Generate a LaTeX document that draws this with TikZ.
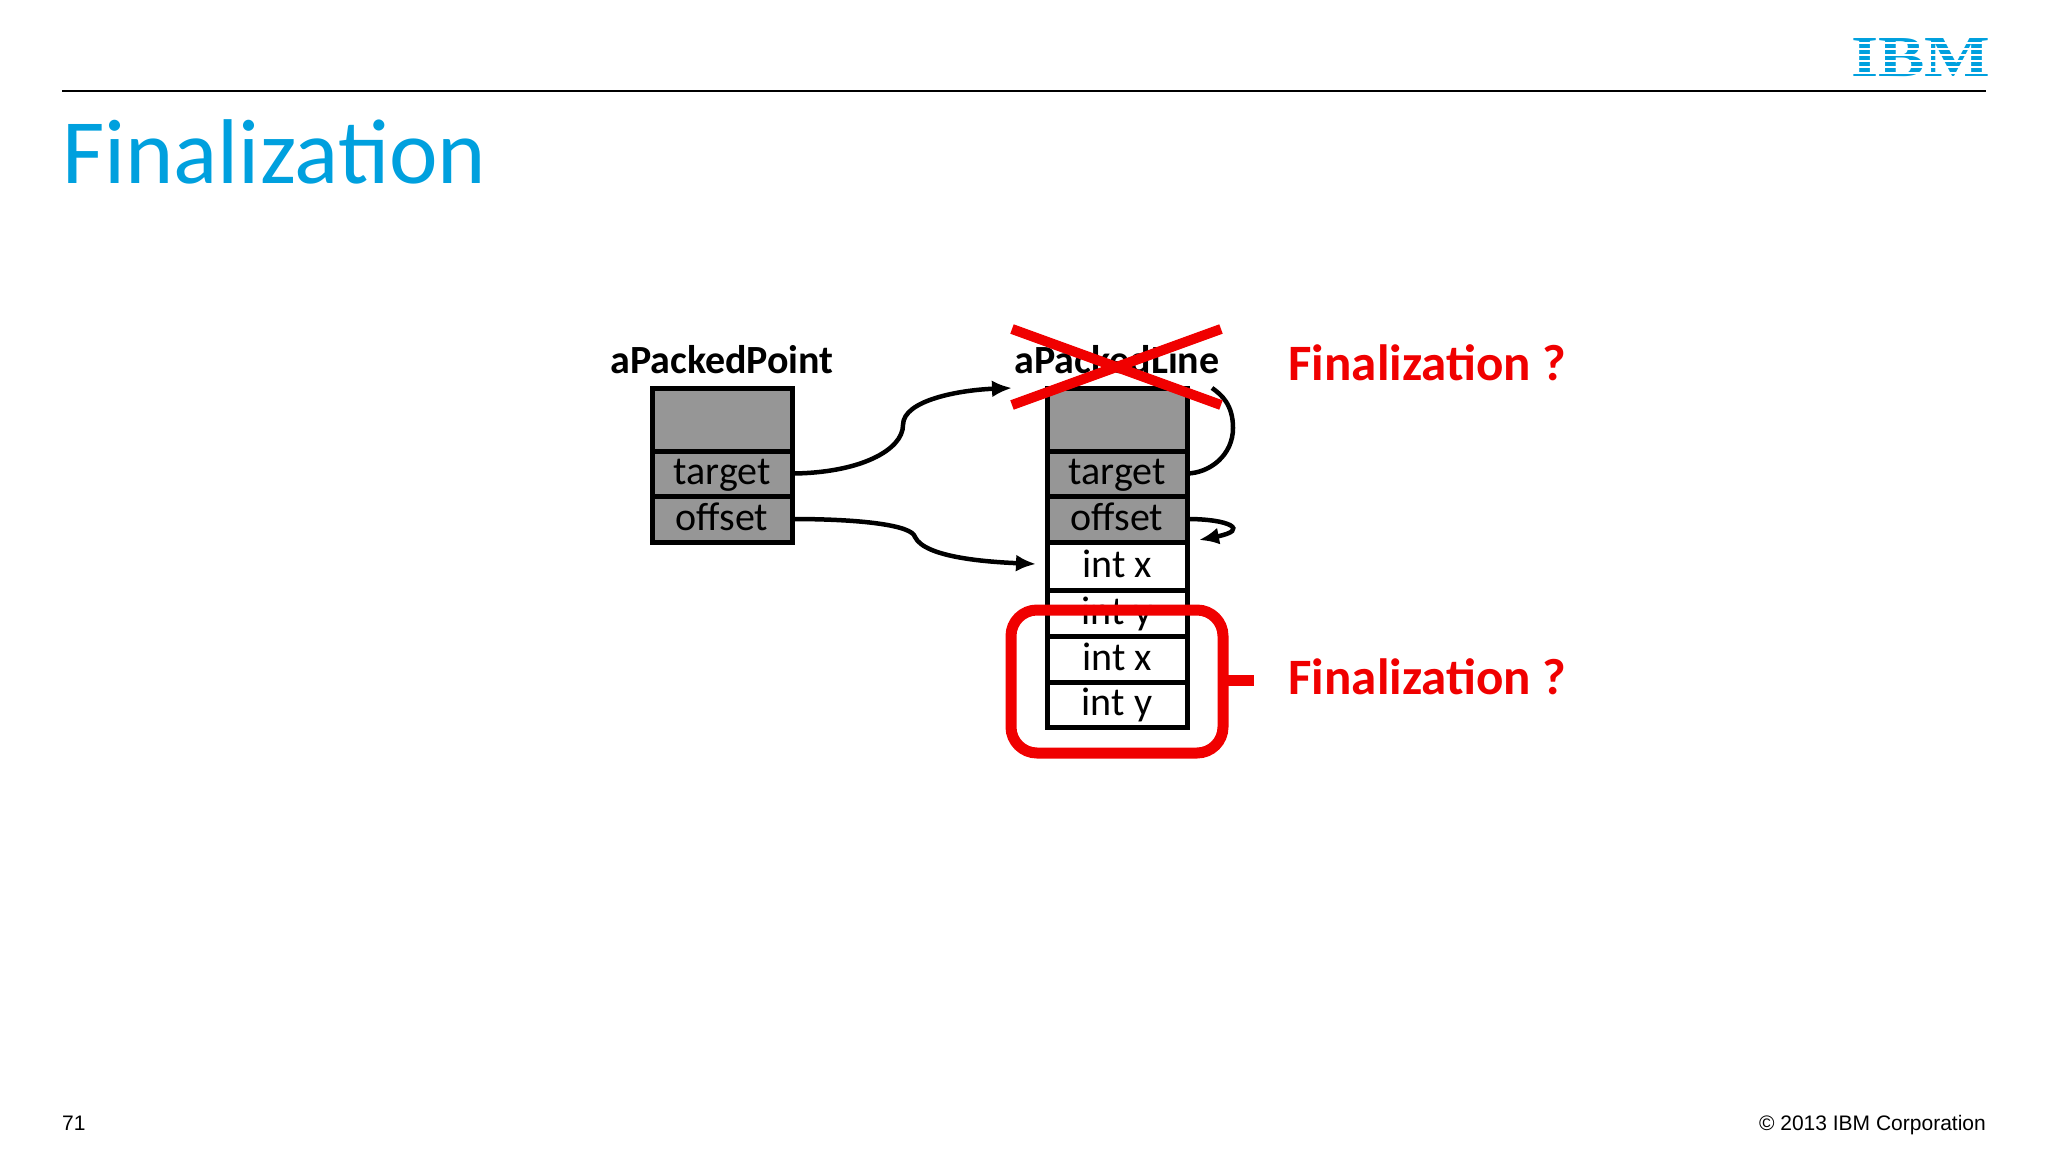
\documentclass[tikz,border=0pt]{standalone}
\usepackage{fontspec}
\setmainfont{Carlito}
\newfontfamily\arial{Liberation Sans}
\newfontfamily\tnr{Liberation Serif}
\usetikzlibrary{arrows.meta}
\definecolor{ibmblue}{RGB}{0,160,222}
\definecolor{cellgray}{RGB}{150,150,150}
\definecolor{xred}{RGB}{240,0,0}
\begin{document}
\begin{tikzpicture}[x=1pt,y=-1pt,
  cell/.style={draw=black,line width=5pt,minimum width=140pt,inner sep=0pt,outer sep=0pt,text height=26pt,text depth=4pt,font=\fontsize{40}{40}\selectfont},
  greycell/.style={cell,fill=cellgray},
  whitecell/.style={cell,fill=white},
  hdr/.style={font=\bfseries\fontsize{40}{40}\selectfont},
  fin/.style={text=xred,font=\bfseries\fontsize{51}{51}\selectfont,anchor=west},
  arr/.style={line width=4.5pt,-{Latex[length=20pt,width=17pt]}}]
\useasboundingbox (0,0) rectangle (2048,1152);
% header
\draw[line width=2pt] (62,91) -- (1986,91);
\node[anchor=base west,inner sep=0pt,text=ibmblue,font=\fontsize{92}{92}\selectfont] (title) at (62,183) {Finalization};
\node[inner sep=0pt,text=ibmblue,font=\tnr\bfseries\fontsize{58}{58}\selectfont,xscale=1.2] (ibm) at (1921,58) {IBM};
\foreach \yy in {42,48,54,60,66,72}{\fill[white] (1850,\yy) rectangle (1992,\yy+2.2);}
\node[anchor=base west,inner sep=0pt,font=\arial\fontsize{21}{21}\selectfont] (pg) at (62,1130) {71};
\node[anchor=base east,inner sep=0pt,font=\arial\fontsize{21}{21}\selectfont] (copy) at (1986,1130) {\textcopyright{} 2013 IBM Corporation};
% left object
\node[hdr] (lp) at (722,360) {aPackedPoint};
\node[greycell,minimum height=63pt] (l0) at (722,419.5) {};
\node[greycell,minimum height=45pt] (l1) at (722,473.5) {target};
\node[greycell,minimum height=46pt] (l2) at (722,519) {offset};
% right object
\node[hdr] (rp) at (1117,360) {aPackedLine};
\node[greycell,minimum height=63pt] (r0) at (1117,419.5) {};
\node[greycell,minimum height=45pt] (r1) at (1117,473.5) {target};
\node[greycell,minimum height=46pt] (r2) at (1117,519) {offset};
\node[whitecell,minimum height=48pt] (r3) at (1117,566) {int x};
\node[whitecell,minimum height=46pt] (r4) at (1117,613) {int y};
\node[whitecell,minimum height=46pt] (r5) at (1117,659) {int x};
\node[whitecell,minimum height=45pt] (r6) at (1117,704.5) {int y};
% arrows
\coordinate (t1) at (1012,388);
\coordinate (t2) at (1036,564);
\coordinate (t3) at (1199,540);
\coordinate (t4) at (1212,388);
\draw[arr] (l1.east) .. controls (860,473) and (903,450) .. (903,425) .. controls (903,400) and (960,390) .. (t1);
\draw[arr] (l2.east) .. controls (860,519) and (912,525) .. (915,537) .. controls (925,558) and (990,562) .. (t2);
\draw[line width=4.5pt] (r1.east) .. controls (1210,473) and (1233,455) .. (1233,428) .. controls (1233,405) and (1222,395) .. (t4);
\draw[arr] (r2.east) .. controls (1230,519) and (1250,530) .. (t3);
% red X
\draw[xred,line width=10pt] (1012,329) -- (1221,405);
\draw[xred,line width=10pt] (1012,405) -- (1221,329);
% red box
\draw[xred,line width=11pt,rounded corners=26pt] (1011,610) rectangle (1223,753);
\coordinate (stub) at (1254,680);
\draw[xred,line width=11pt] (1223,680) -- (stub);
\node[fin] (f1) at (1285,363) {Finalization ?};
\node[fin] (f2) at (1285,677) {Finalization ?};
\end{tikzpicture}
\end{document}
